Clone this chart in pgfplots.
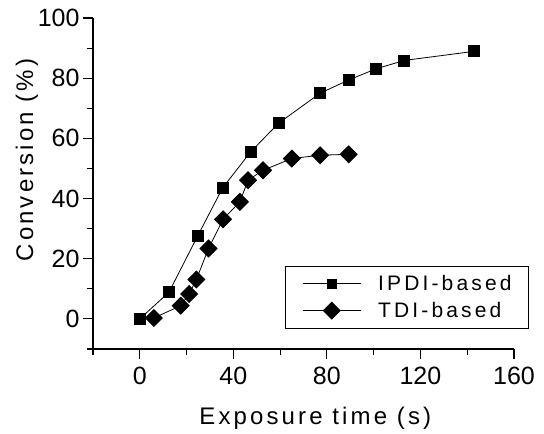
\documentclass[border=0pt]{standalone}
\usepackage{pgfplots}
\pgfplotsset{compat=1.18}
\usepackage{fontspec}
\setmainfont{Liberation Sans}
\newfontfamily\tickfont{Liberation Sans}
\newfontfamily\labfont[LetterSpace=13]{Liberation Sans}
\newfontfamily\legfont[LetterSpace=15]{Liberation Sans}
\begin{document}
\begin{tikzpicture}
\begin{axis}[
  at={(0pt,0pt)}, anchor=south west,
  scale only axis, width=421pt, height=331pt,
  xmin=-20, xmax=160, ymin=-10, ymax=100,
  axis x line*=bottom, axis y line*=left,
  axis line style={line width=1.3pt, -},
  xtick={0,40,80,120,160}, ytick={0,20,40,60,80,100},
  minor xtick={-20,20,60,100,140}, minor ytick={-10,10,30,50,70,90},
  tick style={line width=1.1pt, black},
  major tick length=10pt, minor tick length=6pt,
  tick align=outside,
  /pgf/number format/assume math mode=true,
  ticklabel style={font=\fontsize{25}{30}\tickfont},
  xticklabel style={yshift=-5pt},
  xlabel={Exposure time (s)}, ylabel={Conversion (\%)},
  label style={font=\fontsize{24}{28}\labfont},
  xlabel style={at={(axis description cs:0.528,-0.2296)}, anchor=base},
  ylabel style={at={(axis description cs:-0.1425,0.571)}, anchor=base, rotate=0},
  clip=false,
  legend style={at={(axis description cs:0.456,0.2508)}, anchor=north west,
    draw=black, line width=0.8pt, font=\fontsize{21}{25}\legfont,
    inner xsep=17pt, inner ysep=9pt, row sep=10pt,
    nodes={inner sep=0pt},
    /tikz/every odd column/.append style={column sep=17pt}},
  legend cell align=left,
  legend image code/.code={\draw[mark repeat=2,mark phase=2,#1] plot coordinates {(0pt,0pt)(29pt,0pt)(58pt,0pt)};},
]
\addplot[black, line width=0.8pt, mark=square*, mark size=5.5pt, legend image post style={mark size=4.5pt}] coordinates {
(0,0)(12.5,8.9)(24.7,27.5)(35.4,43.5)(47.4,55.5)(59.3,65)(77.1,75)(89.3,79.4)(101,83.1)(113.1,85.9)(142.8,88.9)};
\addlegendentry{IPDI-based\hspace{22pt}}
\addplot[black, line width=0.8pt, mark=square*, mark size=6pt, mark options={rotate=45}] coordinates {
(6,0.3)(17.5,4.4)(21.1,8.3)(24.2,13.1)(29.4,23.4)(35.6,33.1)(42.8,38.9)(46.3,46.1)(52.7,49.4)(65,53.3)(77.1,54.4)(89.3,54.7)};
\addlegendentry{TDI-based}
\end{axis}
\path (-93pt,-78pt) rectangle (451pt,349pt);
\end{tikzpicture}
\end{document}
